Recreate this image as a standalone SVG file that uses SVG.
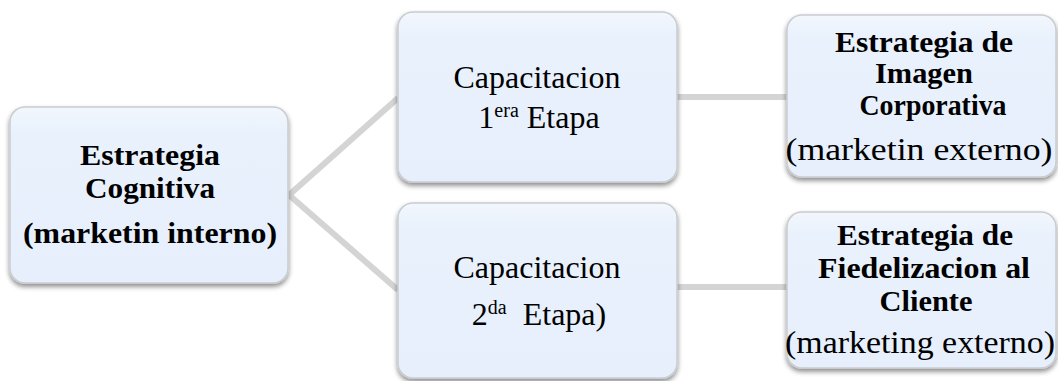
<svg xmlns="http://www.w3.org/2000/svg" width="1058" height="381" viewBox="0 0 1058 381">
<defs>
<linearGradient id="g" x1="0" y1="0" x2="0" y2="1">
<stop offset="0" stop-color="#f3f7fd"/>
<stop offset="0.15" stop-color="#e8f1fc"/>
<stop offset="1" stop-color="#e6effb"/>
</linearGradient>
<filter id="sh" x="-10%" y="-10%" width="120%" height="125%">
<feGaussianBlur in="SourceAlpha" stdDeviation="2.5"/>
<feOffset dx="0" dy="3" result="b"/>
<feComponentTransfer><feFuncA type="linear" slope="0.45"/></feComponentTransfer>
<feMerge><feMergeNode/><feMergeNode in="SourceGraphic"/></feMerge>
</filter>
</defs>
<style>
.box{fill:url(#g);stroke:#c9ccd1;stroke-width:1.5;filter:url(#sh)}
.con{stroke:#d4d4d4;stroke-width:6;fill:none}
text{font-family:'Liberation Serif','Tinos','Times New Roman','Times','Nimbus Roman','Noto Serif','DejaVu Serif','FreeSerif',serif;fill:#000;text-anchor:middle}
.b{font-weight:bold}
</style>
<g id="connectors">
<path class="con" d="M289,195 L398,98"/>
<path class="con" d="M289,195 L398,290"/>
<path class="con" d="M677,97 L787,97"/>
<path class="con" d="M677,287 L787,287"/>
</g>
<g id="node-cognitiva">
<rect class="box" x="10" y="107" width="278" height="176" rx="15"/>
<text class="b" x="150" y="165" font-size="29" textLength="140" lengthAdjust="spacingAndGlyphs">Estrategia</text>
<text class="b" x="150" y="198" font-size="29" textLength="130" lengthAdjust="spacingAndGlyphs">Cognitiva</text>
<text class="b" x="150" y="243" font-size="29" textLength="254" lengthAdjust="spacingAndGlyphs">(marketin interno)</text>
</g>
<g id="node-cap1">
<rect class="box" x="398" y="12" width="279" height="170" rx="15"/>
<text x="537" y="88" font-size="32" textLength="167" lengthAdjust="spacingAndGlyphs">Capacitacion</text>
<text x="539" y="128" font-size="32"><tspan>1</tspan><tspan font-size="20" dy="-11">era</tspan><tspan dy="11"> Etapa</tspan></text>
</g>
<g id="node-cap2">
<rect class="box" x="398" y="203" width="279" height="175" rx="15"/>
<text x="537" y="278" font-size="32" textLength="167" lengthAdjust="spacingAndGlyphs">Capacitacion</text>
<text x="539" y="325" font-size="32" xml:space="preserve"><tspan>2</tspan><tspan font-size="20" dy="-11">da</tspan><tspan dy="11">  Etapa)</tspan></text>
</g>
<g id="node-imagen">
<rect class="box" x="787" y="15" width="269" height="162" rx="15"/>
<text class="b" x="924" y="52" font-size="30" textLength="178" lengthAdjust="spacingAndGlyphs">Estrategia de</text>
<text class="b" x="924" y="83" font-size="30" textLength="98" lengthAdjust="spacingAndGlyphs">Imagen</text>
<text class="b" x="933" y="115" font-size="30" textLength="147" lengthAdjust="spacingAndGlyphs">Corporativa</text>
<text x="919" y="160" font-size="32" textLength="267" lengthAdjust="spacingAndGlyphs">(marketin externo)</text>
</g>
<g id="node-fidelizacion">
<rect class="box" x="787" y="212" width="269" height="156" rx="15"/>
<text class="b" x="925" y="245" font-size="30" textLength="176" lengthAdjust="spacingAndGlyphs">Estrategia de</text>
<text class="b" x="924" y="278" font-size="30" textLength="212" lengthAdjust="spacingAndGlyphs">Fiedelizacion al</text>
<text class="b" x="926" y="311" font-size="30" textLength="93" lengthAdjust="spacingAndGlyphs">Cliente</text>
<text x="920" y="353" font-size="32" textLength="270" lengthAdjust="spacingAndGlyphs">(marketing externo)</text>
</g>
</svg>
